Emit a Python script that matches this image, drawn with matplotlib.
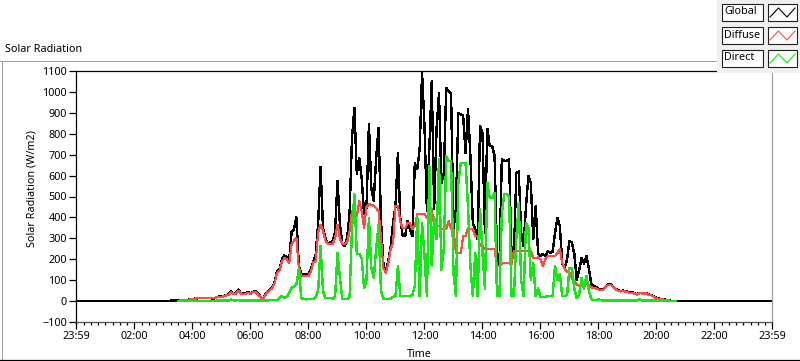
import numpy as np
import matplotlib
matplotlib.use('Agg')
import matplotlib.pyplot as plt
from matplotlib.patches import Rectangle
from matplotlib.ticker import FixedLocator, MultipleLocator

plt.rcParams['font.family'] = ['Noto Sans', 'DejaVu Sans']

# 5-minute samples, 03:30 -> 20:40 (W/m2)
t_start = 3.5
t_step = 5 / 60

global_rad = [
    2, 3, 3, 4, 6, 8,
    10, 12, 13, 14, 16, 16,
    14, 16, 13, 13, 20, 21,
    21, 24, 28, 33, 46, 36,
    38, 55, 38, 35, 37, 43,
    36, 44, 48, 36, 24, 10,
    28, 45, 55, 66, 90, 143,
    152, 200, 218, 210, 190, 330,
    345, 400, 170, 130, 128, 125,
    130, 150, 190, 225, 370, 640,
    350, 300, 275, 280, 285, 330,
    574, 370, 272, 263, 300, 420,
    780, 923, 607, 685, 588, 416,
    445, 846, 540, 478, 684, 828,
    383, 176, 134, 191, 260, 373,
    454, 707, 392, 311, 311, 383,
    344, 311, 660, 630, 727, 1090,
    837, 430, 727, 1052, 440, 823,
    995, 564, 612, 1019, 1004, 990,
    344, 440, 899, 894, 885, 707,
    918, 693, 373, 344, 296, 837,
    803, 325, 823, 741, 741, 693,
    230, 167, 679, 670, 670, 679,
    230, 215, 612, 620, 325, 263,
    450, 598, 564, 296, 454, 230,
    215, 225, 215, 239, 230, 235,
    325, 397, 359, 182, 158, 200,
    287, 280, 225, 100, 150, 205,
    180, 215, 158, 81, 72, 68,
    57, 55, 57, 70, 81, 80,
    72, 60, 52, 48, 50, 48,
    45, 40, 42, 36, 33, 40,
    38, 38, 38, 30, 29, 22,
    14, 12, 10, 8, 6, 3,
    1, 0, 0,
]

diffuse_rad = [
    2, 3, 3, 4, 6, 8,
    10, 12, 13, 14, 16, 16,
    14, 16, 13, 13, 19, 20,
    20, 23, 27, 31, 42, 34,
    36, 50, 36, 33, 35, 40,
    34, 42, 45, 34, 22, 9,
    26, 42, 52, 62, 85, 135,
    145, 190, 205, 200, 180, 270,
    290, 300, 160, 120, 118, 118,
    120, 140, 185, 191, 330, 366,
    335, 290, 272, 272, 272, 300,
    366, 300, 272, 272, 280, 335,
    430, 430, 406, 478, 430, 350,
    450, 463, 460, 455, 445, 430,
    301, 158, 134, 180, 250, 277,
    454, 454, 380, 349, 349, 373,
    373, 344, 360, 416, 416, 416,
    416, 397, 397, 440, 359, 359,
    359, 344, 344, 344, 383, 344,
    344, 230, 230, 230, 311, 311,
    349, 344, 344, 311, 311, 263,
    263, 249, 249, 249, 249, 249,
    167, 167, 180, 182, 182, 182,
    177, 239, 239, 239, 239, 239,
    239, 239, 239, 205, 205, 210,
    200, 167, 200, 215, 215, 215,
    215, 230, 249, 182, 153, 140,
    134, 110, 96, 81, 72, 81,
    86, 86, 75, 67, 62, 60,
    55, 53, 55, 68, 78, 77,
    70, 58, 50, 46, 48, 46,
    43, 38, 40, 34, 31, 38,
    36, 36, 36, 28, 27, 20,
    13, 11, 9, 7, 5, 3,
    1, 0, 0,
]

direct_rad = [
    0, 0, 0, 0, 0, 0,
    1, 1, 1, 1, 1, 1,
    1, 1, 1, 1, 2, 2,
    2, 2, 2, 3, 8, 3,
    3, 5, 3, 3, 3, 3,
    3, 3, 3, 3, 3, 3,
    3, 3, 5, 5, 5, 5,
    13, 24, 15, 20, 40, 62,
    70, 80, 153, 15, 10, 8,
    10, 10, 10, 20, 50, 263,
    48, 15, 15, 15, 12, 20,
    230, 110, 10, 10, 10, 20,
    350, 510, 225, 225, 207, 62,
    100, 397, 158, 110, 250, 366,
    48, 12, 10, 10, 12, 20,
    24, 167, 24, 24, 24, 24,
    24, 30, 72, 406, 24, 373,
    215, 24, 645, 167, 400, 296,
    679, 150, 250, 693, 670, 670,
    134, 24, 564, 660, 660, 660,
    450, 167, 24, 230, 24, 440,
    230, 60, 564, 493, 493, 517,
    24, 24, 420, 512, 512, 500,
    24, 24, 300, 469, 100, 24,
    373, 349, 100, 180, 24, 60,
    20, 20, 20, 24, 24, 24,
    167, 100, 130, 24, 24, 30,
    158, 158, 60, 14, 30, 110,
    60, 120, 50, 10, 5, 4,
    8, 4, 3, 3, 3, 3,
    3, 3, 3, 3, 3, 3,
    3, 3, 3, 3, 3, 8,
    3, 3, 3, 3, 3, 3,
    3, 3, 3, 3, 2, 2,
    1, 0, 0,
]

day_start = -1 / 60          # 23:59 of the previous day
day_end = 24 - 1 / 60        # 23:59
x_tick_hours = [day_start, 2, 4, 6, 8, 10, 12, 14, 16, 18, 20, 22, day_end]
x_tick_labels = ['23:59', '02:00', '04:00', '06:00', '08:00', '10:00', '12:00',
                 '14:00', '16:00', '18:00', '20:00', '22:00', '23:59']
y_ticks = list(range(-100, 1101, 100))

series = [('Global', global_rad, '#000000'),
          ('Diffuse', diffuse_rad, '#ff4a4a'),
          ('Direct', direct_rad, '#16e616')]

t = t_start + t_step * np.arange(len(global_rad))

W, H = 800, 361
fig = plt.figure(figsize=(W / 100, H / 100), dpi=100)

# outer frame (pixel coordinates)
bg = fig.add_axes([0, 0, 1, 1], zorder=-1)
bg.set_xlim(0, W)
bg.set_ylim(H, 0)
bg.axis('off')
bg.plot([1.5, 1.5], [60.5, 360], color='#a0a0a0', lw=0.75)
bg.plot([0, 720], [60.5, 60.5], color='#a0a0a0', lw=0.75)
bg.plot([0, W], [360, 360], color='#000000', lw=0.9)
bg.text(5, 50, 'Solar Radiation', fontsize=7.8, va='center', ha='left')

ax = fig.add_axes([76 / W, 1 - 322 / H, 696 / W, 251 / H])

# night-time baseline only for the global trace
ax.plot(np.concatenate([[day_start], t, [day_end]]),
        np.concatenate([[0], global_rad, [0]]),
        color=series[0][2], lw=1.0, antialiased=False, zorder=2)
ax.plot(t, diffuse_rad, color=series[1][2], lw=0.8, antialiased=False, zorder=3)
ax.plot(t, direct_rad, color=series[2][2], lw=1.0, antialiased=False, zorder=4)

ax.set_xlim(day_start, day_end)
ax.set_ylim(-100, 1100)
ax.xaxis.set_major_locator(FixedLocator(x_tick_hours))
ax.set_xticklabels(x_tick_labels)
ax.xaxis.set_minor_locator(MultipleLocator(0.25))
ax.set_yticks(y_ticks)

ax.tick_params(axis='both', which='major', direction='out', length=5, width=0.9,
               labelsize=7.8, pad=1.5, color='#000000')
ax.tick_params(axis='x', which='minor', direction='out', length=2.5, width=0.9)
ax.tick_params(axis='y', which='minor', left=False)

ax.spines['top'].set_color('#000000')
ax.spines['left'].set_color('#000000')
ax.spines['bottom'].set_color('#505050')
ax.spines['right'].set_color('#a0a0a0')
for s in ax.spines.values():
    s.set_linewidth(0.9)

ax.set_ylabel('Solar Radiation (W/m2)', fontsize=7.8)
ax.yaxis.set_label_coords(-0.055, 0.53)
ax.set_xlabel('Time', fontsize=7.8)
ax.xaxis.set_label_coords(0.494, -0.106)

# LabVIEW style legend panel
lg = fig.add_axes([0, 0, 1, 1], zorder=5)
lg.set_xlim(0, W)
lg.set_ylim(H, 0)
lg.axis('off')
lg.add_patch(Rectangle((717, 0), 83, 72.5, fc='#f0f0f0', ec='none'))
zig_x = [770, 778.5, 787, 795]
zig_y = [17, 8, 17, 8]
for k, (name, _, col) in enumerate(series):
    top = 3.5 + 23 * k
    lg.add_patch(Rectangle((721.5, top), 41, 17, fc='white', ec='#202020', lw=0.8))
    lg.add_patch(Rectangle((767.5, top), 29, 17, fc='white', ec='#202020', lw=0.8))
    lg.text(724, top + 8.5, name, fontsize=7.8, va='center', ha='left')
    lg.plot(zig_x, [top - 3.5 + v for v in zig_y], color=col, lw=0.8)

fig.savefig('out.png', dpi=100)
